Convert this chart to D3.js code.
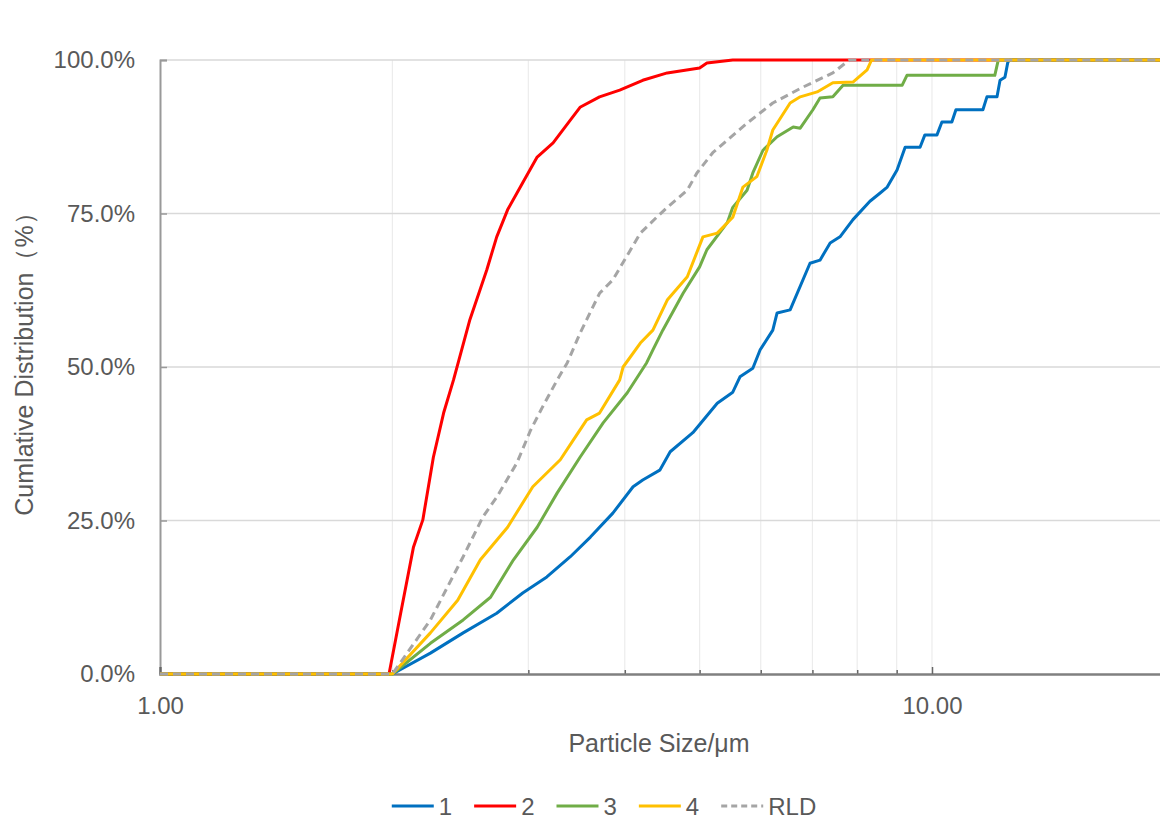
<!DOCTYPE html>
<html>
<head>
<meta charset="utf-8">
<script src="https://cdn.jsdelivr.net/npm/d3@7/dist/d3.min.js"></script>
<style>
  html, body { margin: 0; padding: 0; background: #fff; }
  svg { display: block; }
  text { font-family: "Liberation Sans", Arial, sans-serif; fill: #595959; }
</style>
</head>
<body>
<svg id="chart" width="1160" height="819"></svg>
<script>
// Cumulative particle size distributions: [size in µm, cumulative %]
const sample1 = [[1,0],[2.0,0],[2.24,3.4],[2.47,6.7],[2.73,9.9],[2.95,13.2],[3.17,15.8],[3.40,19.1],[3.61,22.3],[3.86,26.2],[4.10,30.5],[4.22,31.6],[4.44,33.2],[4.58,36.2],[4.90,39.3],[5.27,44.1],[5.52,45.9],[5.64,48.4],[5.86,49.8],[5.99,52.8],[6.22,56.0],[6.30,58.8],[6.55,59.3],[6.95,66.9],[7.16,67.4],[7.38,70.2],[7.60,71.2],[7.90,74.0],[8.31,77.0],[8.56,78.3],[8.75,79.3],[9.01,82.1],[9.23,85.8],[9.65,85.8],[9.79,87.8],[10.15,87.8],[10.30,89.9],[10.61,89.9],[10.74,91.9],[11.64,91.9],[11.78,94.0],[12.14,94.0],[12.25,96.7],[12.43,97.2],[12.54,99.7],[12.62,100],[20,100]];
const sample2 = [[1,0],[1.98,0],[2.05,9.9],[2.13,20.7],[2.19,25.1],[2.26,35.3],[2.33,42.5],[2.40,47.9],[2.52,57.7],[2.65,65.8],[2.73,71.2],[2.82,75.6],[2.95,80.0],[3.08,84.2],[3.23,86.5],[3.40,90.2],[3.50,92.3],[3.71,94.0],[3.94,95.1],[4.22,96.7],[4.54,97.9],[5.00,98.7],[5.11,99.5],[5.52,100],[20,100]];
const sample3 = [[1,0],[2.0,0],[2.24,5.0],[2.47,8.8],[2.68,12.5],[2.87,18.6],[3.08,23.9],[3.27,29.5],[3.50,35.3],[3.75,40.9],[4.03,45.8],[4.27,50.7],[4.35,52.8],[4.48,56.0],[4.76,62.0],[5.00,66.3],[5.11,69.1],[5.43,73.5],[5.52,76.0],[5.76,78.8],[5.86,81.6],[6.04,85.3],[6.30,87.5],[6.61,89.1],[6.75,88.9],[7.01,91.9],[7.16,93.8],[7.44,94.0],[7.67,95.9],[9.15,95.9],[9.28,97.5],[12.06,97.5],[12.17,99.7],[12.2,100],[20,100]];
const sample4 = [[1,0],[2.0,0],[2.24,6.7],[2.43,12.0],[2.60,18.6],[2.82,23.9],[3.04,30.5],[3.30,34.9],[3.43,38.1],[3.57,41.4],[3.71,42.5],[3.94,47.9],[3.98,50.0],[4.19,53.9],[4.35,56.0],[4.54,60.9],[4.82,64.7],[5.05,71.2],[5.27,71.8],[5.52,74.4],[5.69,79.3],[5.93,81.0],[6.11,85.3],[6.22,88.6],[6.55,93.0],[6.75,94.0],[7.10,94.8],[7.44,96.3],[7.90,96.4],[8.24,98.4],[8.35,100],[20,100]];
const sampleRLD = [[1,0],[2.0,0],[2.24,8.8],[2.47,19.1],[2.62,25.6],[2.73,28.8],[2.90,34.4],[3.02,39.7],[3.13,43.5],[3.27,47.9],[3.37,50.7],[3.50,55.5],[3.71,62.0],[3.86,64.2],[4.19,71.8],[4.40,74.4],[4.54,76.0],[4.82,78.8],[4.96,81.6],[5.20,84.9],[5.76,89.7],[6.22,93.0],[6.81,95.6],[7.44,97.9],[7.76,99.7],[7.83,100],[20,100]];

const seriesNames = ["1", "2", "3", "4", "RLD"];
const seriesData = [sample1, sample2, sample3, sample4, sampleRLD];
const seriesColors = ["#0070C0", "#FF0000", "#70AD47", "#FFC000", "#A5A5A5"];
const seriesDash = [null, null, null, null, "8,5"];

const yTicks = [0, 25, 50, 75, 100];
const xMajorTicks = [1, 10];
const xMinorTicks = [2, 3, 4, 5, 6, 7, 8, 9];
const xGridTicks = [2, 3, 4, 5, 6, 7, 8, 9, 10];

const svg = d3.select("#chart");

const plotLeft = 160, plotTop = 60, plotBottom = 674, decade = 772;
const x = d3.scaleLog().domain([1, 20]).range([plotLeft, plotLeft + decade * Math.log10(20)]);
const y = d3.scaleLinear().domain([0, 100]).range([plotBottom, plotTop]);

// vertical minor gridlines
svg.append("g").selectAll("line").data(xGridTicks).join("line")
  .attr("x1", d => x(d)).attr("x2", d => x(d))
  .attr("y1", y(0)).attr("y2", y(100))
  .attr("stroke", "#ececec").attr("stroke-width", 1.2);

// horizontal gridlines
svg.append("g").selectAll("line").data(yTicks.slice(1)).join("line")
  .attr("x1", x(1)).attr("x2", 1160)
  .attr("y1", d => y(d)).attr("y2", d => y(d))
  .attr("stroke", "#d9d9d9").attr("stroke-width", 1.5);

// y axis
const yAxis = svg.append("g").attr("transform", `translate(${x(1)},0)`)
  .call(d3.axisLeft(y).tickValues(yTicks).tickSize(-7).tickPadding(25)
    .tickFormat(d => d.toFixed(1) + "%"));
yAxis.select(".domain").attr("stroke", "#999").attr("stroke-width", 2);
yAxis.selectAll(".tick line").attr("stroke", "#999").attr("stroke-width", 1.5);
yAxis.selectAll("text").style("font-size", "24px").attr("fill", "#595959");

// x axis: minor ticks then major ticks with labels
const xMinor = svg.append("g").attr("transform", `translate(0,${y(0)})`)
  .call(d3.axisBottom(x).tickValues(xMinorTicks).tickSize(-4).tickFormat(""));
xMinor.select(".domain").remove();
xMinor.selectAll(".tick line").attr("stroke", "#666").attr("stroke-width", 1.5);

const xAxis = svg.append("g").attr("transform", `translate(0,${y(0)})`)
  .call(d3.axisBottom(x).tickValues(xMajorTicks).tickSize(-7).tickPadding(23)
    .tickFormat(d3.format(".2f")));
xAxis.select(".domain").attr("stroke", "#808080").attr("stroke-width", 2.5);
xAxis.selectAll(".tick line").attr("stroke", "#666").attr("stroke-width", 1.5);
xAxis.selectAll("text").style("font-size", "24px").attr("fill", "#595959");

// series lines
const line = d3.line().x(d => x(d[0])).y(d => y(d[1]));
svg.append("g").selectAll("path").data(seriesData).join("path")
  .attr("d", line)
  .attr("fill", "none")
  .attr("stroke", (d, i) => seriesColors[i])
  .attr("stroke-width", 3)
  .attr("stroke-linejoin", "round")
  .attr("stroke-dasharray", (d, i) => seriesDash[i]);

// axis titles
svg.append("text")
  .attr("x", 659).attr("y", 752)
  .attr("text-anchor", "middle")
  .style("font-size", "25px")
  .text("Particle Size/μm");

svg.append("text")
  .attr("transform", "translate(33,358) rotate(-90)")
  .attr("text-anchor", "middle")
  .style("font-size", "25px")
  .text("Cumlative Distribution（%）");

// legend
const legend = svg.append("g");
const lineLen = 42, textGap = 5, itemGap = 22, legendY = 806;
const items = legend.selectAll("g").data(seriesNames).join("g");
items.append("line")
  .attr("x1", 0).attr("x2", lineLen).attr("y1", 0).attr("y2", 0)
  .attr("stroke", (d, i) => seriesColors[i])
  .attr("stroke-width", 3)
  .attr("stroke-dasharray", (d, i) => seriesDash[i] ? "6,4" : null);
items.append("text")
  .attr("x", lineLen + textGap).attr("dy", "0.36em")
  .style("font-size", "24px")
  .text(d => d);
let cursor = 0;
const widths = [];
items.each(function () {
  const w = lineLen + textGap + d3.select(this).select("text").node().getComputedTextLength();
  widths.push(w);
});
const total = d3.sum(widths) + itemGap * (widths.length - 1);
const startX = 604 - total / 2;
items.attr("transform", (d, i) => {
  const tx = startX + cursor;
  cursor += widths[i] + itemGap;
  return `translate(${tx},${legendY})`;
});
</script>
</body>
</html>
